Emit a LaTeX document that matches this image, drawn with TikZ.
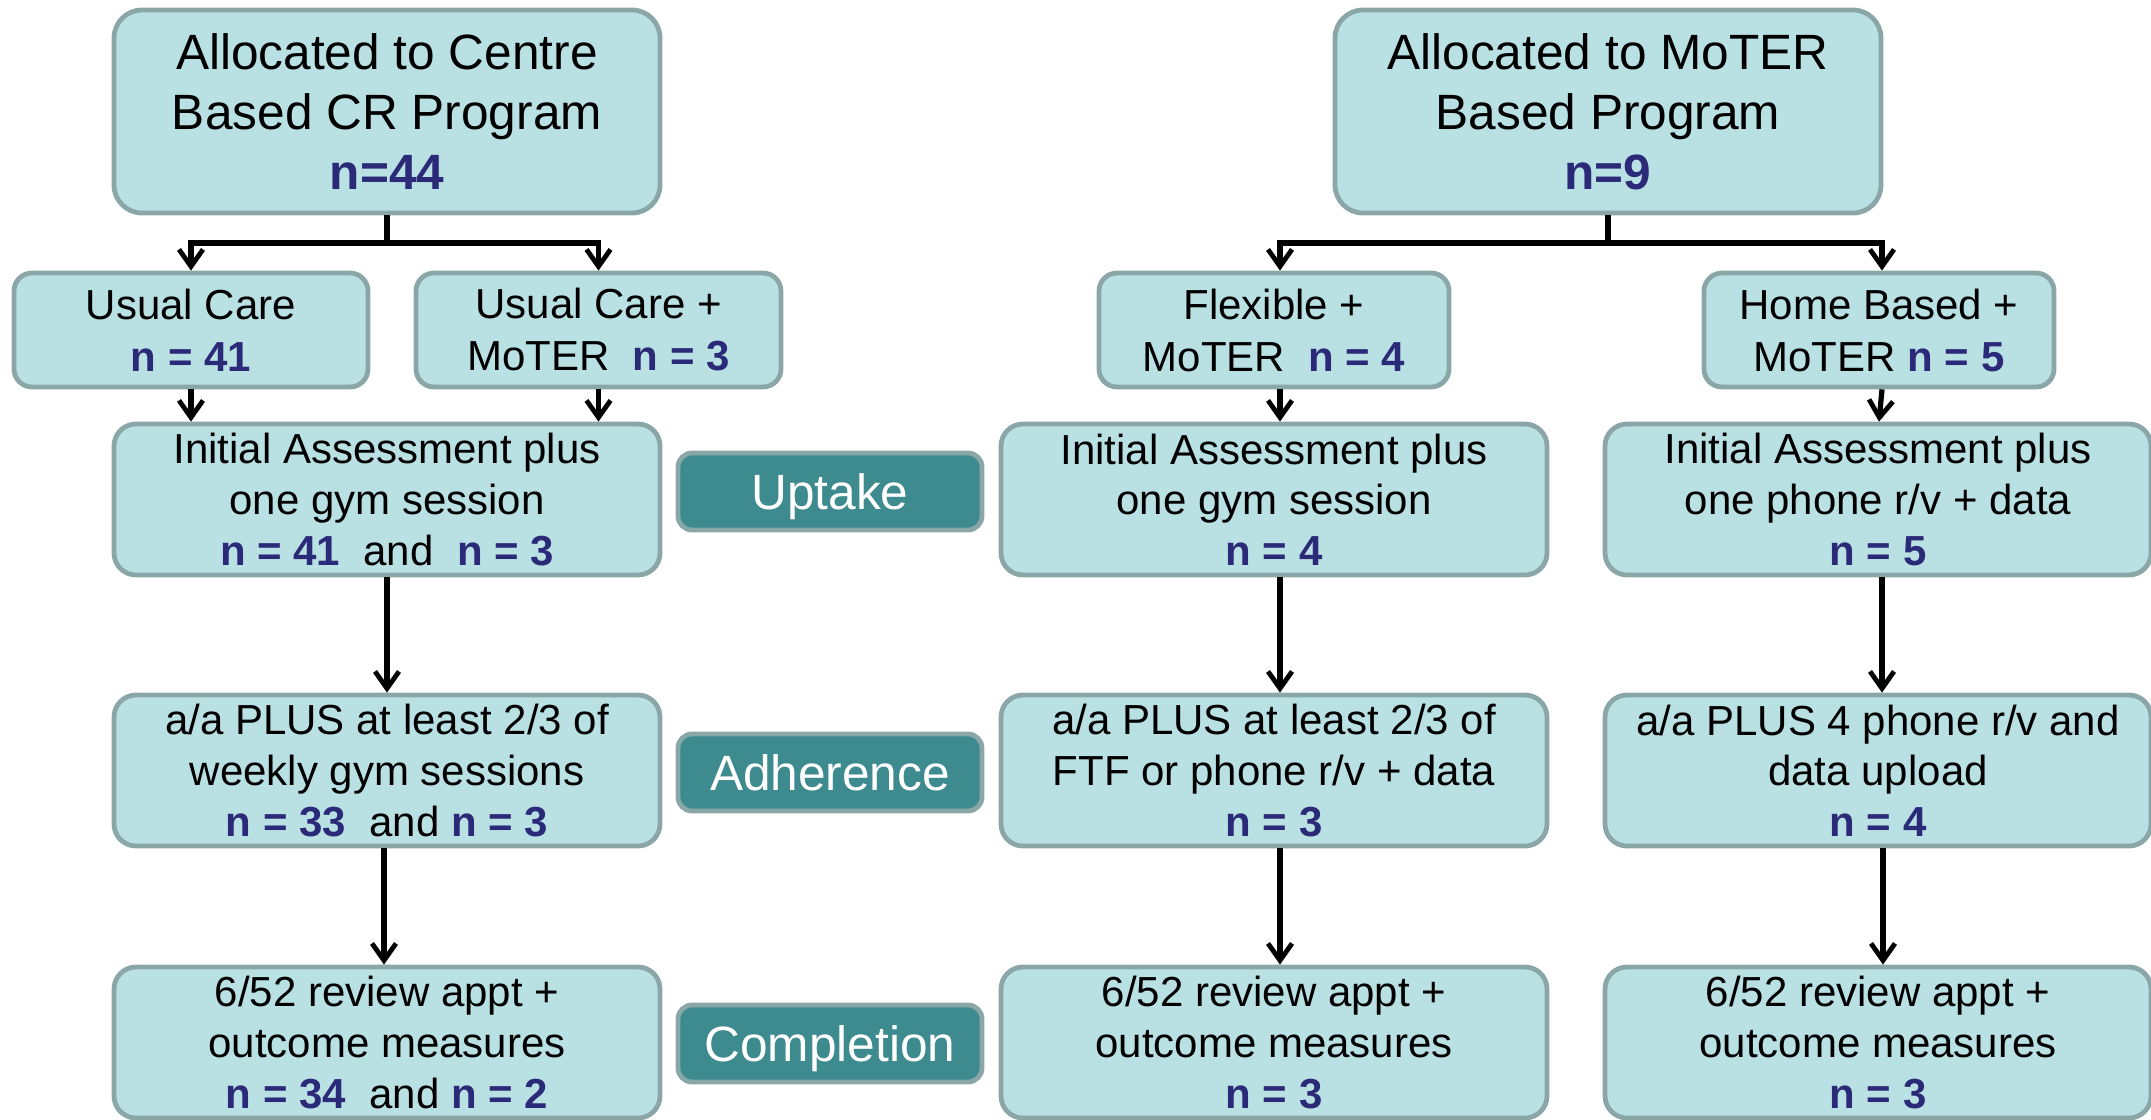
\documentclass[tikz,border=0pt]{standalone}
\usepackage{fontspec}
\setmainfont{Liberation Sans}
\usetikzlibrary{arrows.meta}
\definecolor{boxfill}{HTML}{B9E0E3}
\definecolor{boxline}{HTML}{8AA6A7}
\definecolor{tagfill}{HTML}{3D8A8F}
\definecolor{navy}{HTML}{2B2A78}
\newcommand{\nn}[1]{{\bfseries\color{navy}#1}}
\tikzset{
  base/.style={draw=boxline, line width=2.4pt, fill=boxfill, inner sep=0pt, align=center, text=black},
  bigbox/.style={base, rounded corners=14pt, minimum width=273pt, minimum height=101.5pt, font=\fontsize{24.8}{30}\selectfont},
  midbox/.style={base, rounded corners=9pt, minimum height=57pt, font=\fontsize{21}{26}\selectfont},
  stagebox/.style={base, rounded corners=11pt, minimum width=273pt, minimum height=75.5pt, font=\fontsize{21}{25.3}\selectfont},
  tagbox/.style={draw=boxline, line width=2.4pt, fill=tagfill, rounded corners=7pt, minimum width=152pt, minimum height=38.5pt, inner sep=0pt, text height=18pt, text depth=0pt, text=white, font=\fontsize{24.8}{30}\selectfont},
  arr/.style={line width=2.6pt, -{Straight Barb[length=8.5pt,width=12pt,line width=2.4pt]}},
  conn/.style={line width=2.6pt}
}
\begin{document}
\begin{tikzpicture}[x=0.5pt,y=-0.5pt]
\useasboundingbox (0,0) rectangle (2151,1119);
% top row
\node[bigbox] (tl) at (387,111.5) {Allocated to Centre\\Based CR Program\\\nn{n=44}};
\node[bigbox] (tr) at (1608,111.5) {Allocated to MoTER\\Based Program\\\nn{n=9}};
% second row
\node[midbox, minimum width=177pt] (uc) at (191,330) {Usual Care\\\nn{n = 41}};
\node[midbox, minimum width=182.5pt] (ucm) at (598.5,330) {Usual Care +\\MoTER\ \ \nn{n = 3}};
\node[midbox, minimum width=175pt] (fx) at (1274,330) {Flexible +\\MoTER\ \ \nn{n = 4}};
\node[midbox, minimum width=175pt] (hb) at (1879,330) {Home Based +\\MoTER \nn{n = 5}};
% uptake row
\node[stagebox] (u1) at (387,499.5) {Initial Assessment plus\\one gym session\\\nn{n = 41}\ \ and\ \ \nn{n = 3}};
\node[stagebox] (u2) at (1274,499.5) {Initial Assessment plus\\one gym session\\\nn{n = 4}};
\node[stagebox] (u3) at (1878,499.5) {Initial Assessment plus\\one phone r/v + data\\\nn{n = 5}};
% adherence row
\node[stagebox] (a1) at (387,770.5) {a/a PLUS at least 2/3 of\\weekly gym sessions\\\nn{n = 33}\ \ and \nn{n = 3}};
\node[stagebox] (a2) at (1274,770.5) {a/a PLUS at least 2/3 of\\FTF or phone r/v + data\\\nn{n = 3}};
\node[stagebox] (a3) at (1878,770.5) {a/a PLUS 4 phone r/v and\\data upload\\\nn{n = 4}};
% completion row
\node[stagebox] (c1) at (387,1042.5) {6/52 review appt +\\outcome measures\\\nn{n = 34}\ \ and \nn{n = 2}};
\node[stagebox] (c2) at (1274,1042.5) {6/52 review appt +\\outcome measures\\\nn{n = 3}};
\node[stagebox] (c3) at (1878,1042.5) {6/52 review appt +\\outcome measures\\\nn{n = 3}};
% stage tags
\node[tagbox] (tu) at (830,491.5) {Uptake};
\node[tagbox] (ta) at (830,772.5) {Adherence};
\node[tagbox] (tc) at (830,1043.5) {Completion};
% connectors
\coordinate (jl) at (387,243);
\coordinate (jr) at (1608,243);
\draw[conn] (tl.south) -- (jl);
\draw[arr] (jl) -| (uc.north);
\draw[arr] (jl) -| (ucm.north);
\draw[conn] (tr.south) -- (jr);
\draw[arr] (jr) -| ([xshift=3pt]fx.north);
\draw[arr] (jr) -| ([xshift=1.5pt]hb.north);
\draw[arr] (uc.south) -- (uc.south |- u1.north);
\draw[arr] (ucm.south) -- (ucm.south |- u1.north);
\draw[arr] ([xshift=3pt]fx.south) -- ([xshift=3pt]u2.north);
\draw[arr] ([xshift=1.5pt]hb.south) -- (hb.south |- u3.north);
\draw[arr] (u1.south) -- (a1.north);
\draw[arr] ([xshift=3pt]u2.south) -- ([xshift=3pt]a2.north);
\draw[arr] ([xshift=2pt]u3.south) -- ([xshift=2pt]a3.north);
\draw[arr] ([xshift=-1.5pt]a1.south) -- ([xshift=-1.5pt]c1.north);
\draw[arr] ([xshift=3pt]a2.south) -- ([xshift=3pt]c2.north);
\draw[arr] ([xshift=2.5pt]a3.south) -- ([xshift=2.5pt]c3.north);
\end{tikzpicture}
\end{document}
